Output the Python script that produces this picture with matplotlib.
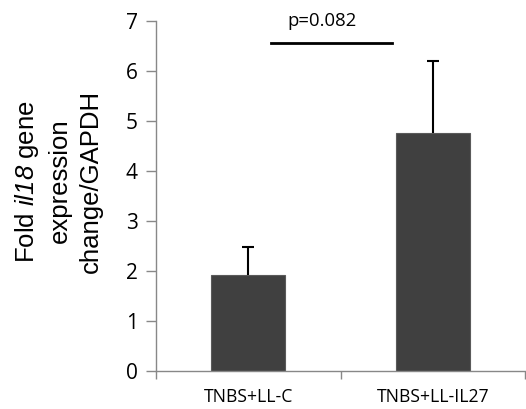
import matplotlib
matplotlib.use("Agg")
import matplotlib.pyplot as plt

plt.rcParams['font.family'] = ['Open Sans', 'DejaVu Sans']
plt.rcParams['mathtext.fontset'] = 'custom'
plt.rcParams['mathtext.rm'] = 'Liberation Sans:italic'
plt.rcParams['mathtext.it'] = 'Liberation Sans:italic'

categories = ['TNBS+LL-C', 'TNBS+LL-IL27']
values = [1.91, 4.75]
errors = [0.57, 1.44]
p_text = 'p=0.082'

fig = plt.figure(figsize=(5.26, 4.09), dpi=100)
ax = fig.add_axes([0.2966, 0.0929, 0.7015, 0.8558])

x = [0, 1]
ax.bar(x, values, width=0.4, color='#404040', edgecolor='#5a5a5a', linewidth=0.8, zorder=2)
eb = ax.errorbar(x, values, yerr=[[0, 0], errors], fmt='none', ecolor='black',
                 elinewidth=1.5, capsize=4.6, capthick=1.5, zorder=3)
eb[1][0].set_visible(False)

ax.set_xlim(-0.5, 1.5)
ax.set_ylim(0, 7)
ax.set_yticks(range(0, 8))
ax.set_xticks([-0.5, 0.5, 1.5], minor=False)
ax.set_xticklabels([])
ax.set_xticks(x, minor=True)
ax.set_xticklabels(categories, minor=True, fontsize=12.7)
ax.tick_params(axis='x', which='minor', length=0, pad=12)
ax.tick_params(axis='x', which='major', length=6, color='#888888', width=1)
ax.tick_params(axis='y', length=7, color='#888888', width=1, labelsize=15, pad=6)

for s in ['top', 'right']:
    ax.spines[s].set_visible(False)
for s in ['left', 'bottom']:
    ax.spines[s].set_color('#888888')
    ax.spines[s].set_linewidth(1)

ax.plot([0.125, 0.78], [6.55, 6.55], color='black', lw=2, clip_on=False)
ax.text(0.40, 7.0, p_text, ha='center', va='center', fontsize=13.3)

fig.text(0.11, 0.557, 'Fold $il18$ gene\nexpression\nchange/GAPDH', fontsize=18.5,
         family='Liberation Sans', rotation=90, ha='center', va='center',
         multialignment='center', linespacing=1.35)

fig.savefig('out.png', dpi=100)
